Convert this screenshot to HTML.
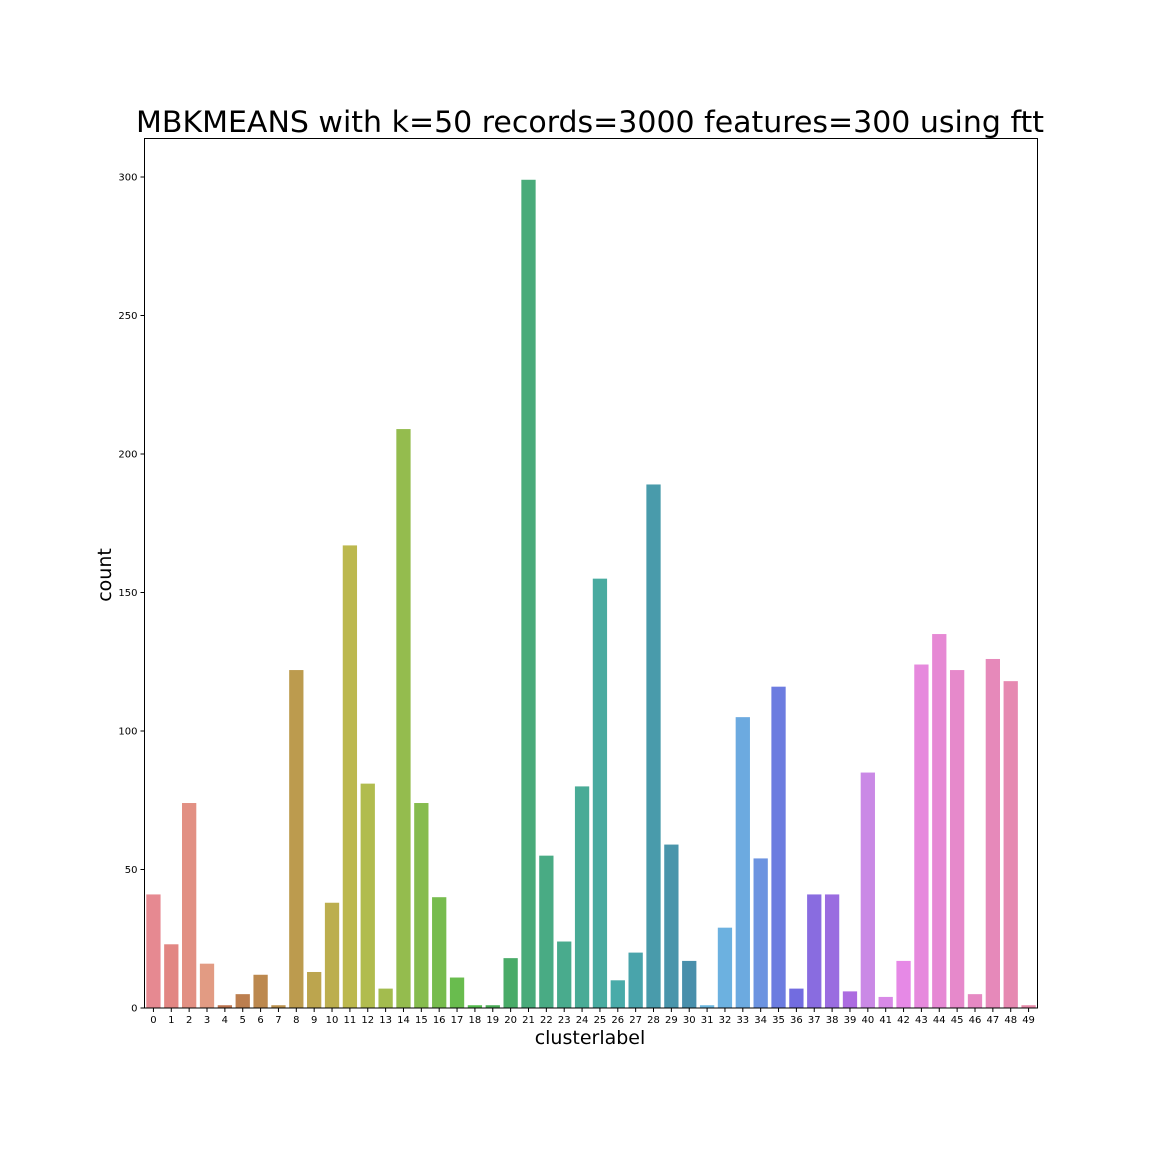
<!DOCTYPE html>
<html><head><meta charset="utf-8"><style>
html,body{margin:0;padding:0;background:#fff;}
svg{display:block;font-family:"DejaVu Sans","Liberation Sans",sans-serif;}
</style></head><body>
<svg id="chart" width="1152" height="1152" viewBox="0 0 1152 1152">
<rect width="1152" height="1152" fill="#fff"/>
<text x="590" y="132" font-size="29" text-anchor="middle" textLength="908" lengthAdjust="spacingAndGlyphs">MBKMEANS with k=50 records=3000 features=300 using ftt</text>
<text x="590" y="1044" font-size="19" text-anchor="middle">clusterlabel</text>
<text transform="translate(111,575) rotate(-90)" font-size="19" text-anchor="middle">count</text>
<g id="bars"></g>
<g id="yticks"></g>
<g id="xticks"></g>
<rect x="144.5" y="138.5" width="893" height="869.5" fill="none" stroke="#000" stroke-width="1"/>
</svg>
<script>
const categories = Array.from({length:50},(_, i)=>String(i));
const counts = [41,23,74,16,1,5,12,1,122,13,38,167,81,7,209,74,40,11,1,1,18,299,55,24,80,155,10,20,189,59,17,1,29,105,54,116,7,41,41,6,85,4,17,124,135,122,5,126,118,1];
const yTicks = [0,50,100,150,200,250,300];

const X0=144.5, X1=1037.5, Y0=1008, Y300=177;
const band=(X1-X0)/categories.length;
const xs=i=>X0+band*i;
const ys=v=>Y0-(Y0-Y300)*v/300;
const NS="http://www.w3.org/2000/svg";
const hueStops=[[0,355],[3,375],[6,392],[11,418],[17,465],[21,510],[28,550],[33,568],[37,615],[42,660],[49,700]];
function hue(i){for(let k=0;k<hueStops.length-1;k++){const a=hueStops[k],b=hueStops[k+1];if(i<=b[0]){return (a[1]+(b[1]-a[1])*(i-a[0])/(b[0]-a[0]))%360;}}return 340;}
function color(i){const h=hue(i);let s=62,l=70;if(h>20&&h<120){s=45;l=52;}if(h>=120&&h<200){s=40;l=48;}if(h>=200&&h<280){s=65;l=65;}if(h>=280){s=65;l=72;}return `hsl(${h},${s}%,${l}%)`;}
const gb=document.getElementById('bars');
counts.forEach((v,i)=>{
  const r=document.createElementNS(NS,'rect');
  
  
  r.setAttribute('x',xs(i)+band*0.1);r.setAttribute('width',band*0.8);
  r.setAttribute('y',ys(v));r.setAttribute('height',Y0-ys(v));
  r.setAttribute('fill',color(i));gb.appendChild(r);
});
const gy=document.getElementById('yticks');
yTicks.forEach(t=>{
  const l=document.createElementNS(NS,'line');
  
  
  l.setAttribute('x1',X0-4);l.setAttribute('x2',X0);l.setAttribute('y1',ys(t));l.setAttribute('y2',ys(t));l.setAttribute('stroke','#000');gy.appendChild(l);
  const tx=document.createElementNS(NS,'text');
  
  
  tx.setAttribute('x',X0-7);tx.setAttribute('y',ys(t)+3.5);tx.setAttribute('font-size','10');tx.setAttribute('text-anchor','end');tx.textContent=t;gy.appendChild(tx);
});
const gx=document.getElementById('xticks');
categories.forEach((c,i)=>{
  const cx=xs(i)+band/2;
  const l=document.createElementNS(NS,'line');
  
  
  l.setAttribute('x1',cx);l.setAttribute('x2',cx);l.setAttribute('y1',Y0);l.setAttribute('y2',Y0+4);l.setAttribute('stroke','#000');gx.appendChild(l);
  const tx=document.createElementNS(NS,'text');
  
  
  tx.setAttribute('x',cx);tx.setAttribute('y',Y0+15);tx.setAttribute('font-size','10');tx.setAttribute('text-anchor','middle');tx.textContent=c;gx.appendChild(tx);
});
</script>
</body></html>
